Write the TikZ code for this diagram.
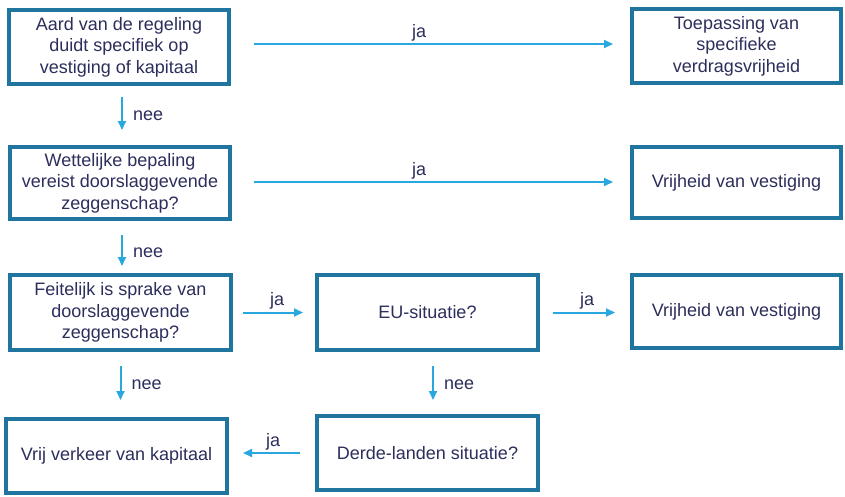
\documentclass[tikz,border=0pt]{standalone}
\usepackage{fontspec}
\setmainfont{Liberation Sans}
\usetikzlibrary{arrows.meta}
\definecolor{boxblue}{RGB}{31,117,158}
\definecolor{arrowblue}{RGB}{41,168,224}
\definecolor{inktext}{RGB}{44,46,92}
\tikzset{
  flowbox/.style={draw=boxblue, line width=4pt, outer sep=0pt, inner sep=2pt,
    align=center, text=inktext, font=\fontsize{18}{21.5}\selectfont},
  flowarrow/.style={draw=arrowblue, line width=2pt,
    -{Triangle[length=9pt,width=8pt]}},
  branch/.style={text=inktext, inner sep=0pt, font=\fontsize{18}{21.5}\selectfont},
}
\begin{document}
\begin{tikzpicture}[x=1pt,y=-1pt]
\useasboundingbox[fill=white] (0,0) rectangle (845,496);

% decision boxes
\node[flowbox, minimum width=220pt, minimum height=74pt] (b1) at (119,47)
  {Aard van de regeling\\duidt specifiek op\\vestiging of kapitaal};
\node[flowbox, minimum width=220pt, minimum height=72pt] (b2) at (120,183)
  {Wettelijke bepaling\\vereist doorslaggevende\\zeggenschap?};
\node[flowbox, minimum width=221pt, minimum height=75pt] (b3) at (120.5,312.5)
  {Feitelijk is sprake van\\doorslaggevende\\zeggenschap?};
\node[flowbox, minimum width=221pt, minimum height=75pt] (eu) at (427.5,312.5)
  {EU-situatie?};
\node[flowbox, minimum width=221pt, minimum height=74pt] (de) at (427.5,453)
  {Derde-landen situatie?};

% outcome boxes
\node[flowbox, minimum width=209pt, minimum height=74pt] (tr1) at (736.5,46)
  {Toepassing van\\specifieke\\verdragsvrijheid};
\node[flowbox, minimum width=209pt, minimum height=71pt] (tr2) at (736.5,182.5)
  {Vrijheid van vestiging};
\node[flowbox, minimum width=209pt, minimum height=73pt] (tr3) at (736.5,311.5)
  {Vrijheid van vestiging};
\node[flowbox, minimum width=221pt, minimum height=74pt] (vr) at (116.5,456)
  {Vrij verkeer van kapitaal};

% "ja" branches
\draw[flowarrow] ([xshift=25pt,yshift=3pt]b1.east) -- ([xshift=-19pt,yshift=2pt]tr1.west)
  node[branch, pos=0.46, anchor=base, yshift=7pt] {ja};
\draw[flowarrow] ([xshift=24pt,yshift=1pt]b2.east) -- ([xshift=-19pt,yshift=0.5pt]tr2.west)
  node[branch, pos=0.46, anchor=base, yshift=7pt] {ja};
\draw[flowarrow] ([xshift=12pt]b3.east) -- ([xshift=-14pt]eu.west)
  node[branch, pos=0.57, anchor=base, yshift=7pt] {ja};
\draw[flowarrow] ([xshift=15pt]eu.east) -- ([xshift=-17pt,yshift=-1pt]tr3.west)
  node[branch, pos=0.55, anchor=base, yshift=7pt] {ja};
\draw[flowarrow] ([xshift=-17pt]de.west) -- ([xshift=16pt,yshift=3pt]vr.east)
  node[branch, pos=0.47, anchor=base, yshift=7pt] {ja};

% "nee" branches
\draw[flowarrow] ([xshift=3pt,yshift=-13pt]b1.south) -- ([xshift=2pt,yshift=17pt]b2.north)
  node[branch, pos=0.5, anchor=base west, xshift=10pt, yshift=-6.5pt] {nee};
\draw[flowarrow] ([xshift=2pt,yshift=-16pt]b2.south) -- ([xshift=1.5pt,yshift=9pt]b3.north)
  node[branch, pos=0.5, anchor=base west, xshift=10pt, yshift=-6.5pt] {nee};
\draw[flowarrow] ([xshift=0pt,yshift=-16pt]b3.south) -- ([xshift=4pt,yshift=19pt]vr.north)
  node[branch, pos=0.5, anchor=base west, xshift=10pt, yshift=-6.5pt] {nee};
\draw[flowarrow] ([xshift=5.5pt,yshift=-16pt]eu.south) -- ([xshift=5.5pt,yshift=16pt]de.north)
  node[branch, pos=0.5, anchor=base west, xshift=10pt, yshift=-6.5pt] {nee};
\end{tikzpicture}
\end{document}
